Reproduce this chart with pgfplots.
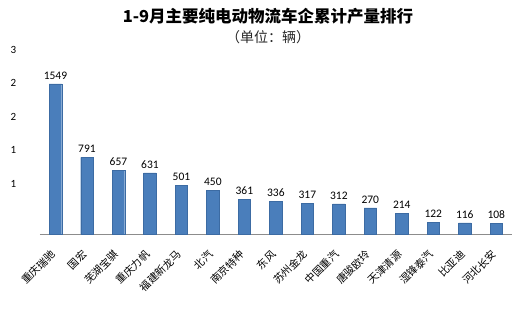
\documentclass[border=0pt]{standalone}
\usepackage{pgfplots}
\pgfplotsset{compat=1.18}
\usepackage{fontspec}
\setmainfont{Carlito}
\newfontfamily\cjk{Noto Sans CJK SC}
\definecolor{barblue}{HTML}{4A7EBB}
\definecolor{baredge}{HTML}{3C6BA3}
\definecolor{axgray}{HTML}{8C8C8C}
\begin{document}
\begin{tikzpicture}
\path[use as bounding box] (0,0) rectangle (517pt,319pt);
\node[font=\cjk\bfseries\fontsize{16.5}{18}\selectfont] at (268pt,303pt) {1-9月主要纯电动物流车企累计产量排行};
\node[font=\cjk\fontsize{14}{16}\selectfont, text=black!85] at (268pt,282pt) {（单位：辆）};
\begin{axis}[at={(39.75pt,85pt)}, anchor=south west, scale only axis,
  width=472.25pt, height=184pt,
  ymin=0, ymax=1900, xmin=-0.5, xmax=14.5, clip=false,
  axis x line*=bottom, axis y line*=left,
  y axis line style={draw=none},
  x axis line style={draw=axgray},
  ytick={517,863,1209,1555,1900},
  yticklabels={1,1,2,2,3},
  ytick style={draw=none},
  yticklabel style={font=\fontsize{11}{12}\selectfont, xshift=-20pt},
  xtick={0,...,14},
  xticklabels={重庆瑞驰,国宏,芜湖宝骐,重庆力帆,福建新龙马,北汽,南京特种,东风,苏州金龙,中国重汽,唐骏欧玲,天津清源,湿锋泰汽,比亚迪,河北长安},
  xtick style={draw=none},
  xticklabel style={font=\cjk\fontsize{10.5}{12}\selectfont, rotate=45, anchor=east, yshift=-11.5pt, xshift=-11pt},
  extra x ticks={-0.5,0.5,...,14.5},
  extra x tick labels={},
  extra x tick style={tick style={draw=axgray}, major tick length=4pt, tick align=outside},
  nodes near coords={\pgfmathprintnumber[1000 sep={},assume math mode=true]{\pgfplotspointmeta}},
  every node near coord/.append style={font=\fontsize{11.5}{12}\selectfont, yshift=1pt},
]
\addplot[ybar, bar width=12.5pt, fill=barblue, draw=baredge] coordinates {
(0,1549) (1,791) (2,657) (3,631) (4,501) (5,450) (6,361) (7,336) (8,317) (9,312) (10,270) (11,214) (12,122) (13,116) (14,108)};
\end{axis}
\end{tikzpicture}
\end{document}
